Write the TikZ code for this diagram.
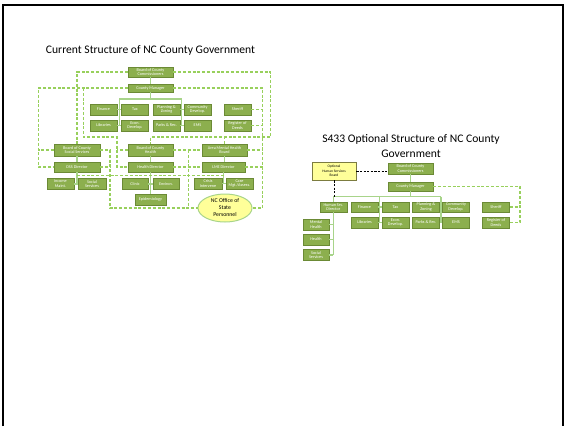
\documentclass[tikz,border=0pt]{standalone}
\usepackage{fontspec}
\setmainfont{Carlito}
\usetikzlibrary{shapes.geometric,shadows}

\definecolor{boxfill}{HTML}{8CAF4E}
\definecolor{boxedge}{HTML}{6B8A35}
\definecolor{solidgreen}{HTML}{A8D48A}
\definecolor{dashgreen}{HTML}{98D05C}
\definecolor{paleyellow}{HTML}{FFFF99}
\definecolor{olivedge}{HTML}{7C7C40}

\tikzset{
  orgbox/.style={draw=boxedge, fill=boxfill, text=white, line width=0.6pt, inner sep=0pt, align=center,
    font=\fontsize{4.2}{4.7}\selectfont, minimum width=27pt, minimum height=11pt,
    drop shadow={shadow xshift=0.5pt, shadow yshift=-0.5pt, opacity=0.35}},
  widebox/.style={orgbox, minimum width=45pt},
  solidln/.style={draw=solidgreen, line width=1.1pt},
  dashln/.style={draw=dashgreen, line width=1.1pt, dash pattern=on 3pt off 1.8pt},
  blackdash/.style={draw=black, line width=0.9pt, dash pattern=on 2.2pt off 1.4pt},
  heading/.style={font=\fontsize{11.6}{14.5}\selectfont, align=center, inner sep=0pt}
}

\begin{document}
\begin{tikzpicture}[x=1pt, y=-1pt]
\useasboundingbox (0,0) rectangle (565,426);
\draw [line width=2pt] (3,426) -- (3,5) -- (563,5) -- (563,426);

% current structure
\node [heading] (title1) at (150.5,50) {Current Structure of NC County Government};
\node [widebox, minimum height=10pt] (bocc) at (150.5,72) {Board of County\\Commissioners};
\node [widebox, minimum height=8pt]  (mgr)  at (150.5,88) {County Manager};
\node [orgbox] (fin)   at (103.5,109.5) {Finance};
\node [orgbox] (tax)   at (135,109.5)   {Tax};
\node [orgbox] (pz)    at (166.5,109.5) {Planning \&\\Zoning};
\node [orgbox] (cd)    at (197.5,109.5) {Community\\Develop.};
\node [orgbox] (sher)  at (237.5,109.5) {Sheriff};
\node [orgbox] (lib)   at (103.5,125.5) {Libraries};
\node [orgbox] (econ)  at (135,125.5)   {Econ.\\Develop.};
\node [orgbox] (parks) at (166.5,125.5) {Parks \& Rec.};
\node [orgbox] (ems)   at (197.5,125.5) {EMS};
\node [orgbox] (rod)   at (237.5,125.5) {Register of\\Deeds};

\node [widebox, minimum width=46pt, minimum height=12pt] (boss) at (77,150) {Board of County\\Social Services};
\node [widebox, minimum width=46pt, minimum height=10pt] (dss)  at (77,167) {DSS Director};
\node [orgbox] (inc) at (60.5,184) {Income\\Maint.};
\node [orgbox, minimum width=28pt] (soc) at (92,184) {Social\\Services};

\node [widebox, minimum height=12pt] (boch) at (150.5,150) {Board of County\\Health};
\node [widebox, minimum height=10pt] (hd)   at (150.5,167) {Health Director};
\node [orgbox, minimum width=26pt] (clin) at (135,184) {Clinic};
\node [orgbox, minimum width=26pt] (env)  at (166,184) {Environ.};
\node [orgbox, minimum width=31pt] (epi)  at (150.5,199.5) {Epidemiology};

\node [widebox, minimum height=12pt] (amhb) at (224.5,150) {Area Mental Health\\Board};
\node [widebox, minimum width=43pt, minimum height=10pt] (lme) at (223.5,167) {LME Director};
\node [orgbox, minimum width=28pt] (cri)  at (208,183.5)   {Crisis\\Intervene};
\node [orgbox] (case) at (239.5,183.5) {Case\\Mgt./Assess.};
\node [ellipse, draw=solidgreen, fill=paleyellow, line width=1pt, inner sep=0pt, minimum width=54pt, minimum height=28pt,
  align=center, font=\fontsize{5.8}{7}\selectfont] (osp) at (225,208) {NC Office of\\State\\Personnel};

\coordinate (busL) at (119.3,99);
\coordinate (busR) at (181.7,99);
\draw [solidln] (bocc.south) -- (mgr.north);
\draw [solidln] (mgr.south) -- (mgr.south |- busL);
\draw [solidln] (busL) -- (busR);
\draw [solidln] (busL) -- (busL |- lib.east);
\draw [solidln] (busR) -- (busR |- ems.west);
\draw [solidln] (fin.east) -- (tax.west);
\draw [solidln] (lib.east) -- (econ.west);
\draw [solidln] (pz.east) -- (cd.west);
\draw [solidln] (parks.east) -- (ems.west);
\draw [solidln] (boss.south) -- (dss.north);
\draw [solidln] (dss.south) -- (dss.south |- inc.east);
\draw [solidln] (inc.east) -- (soc.west);
\draw [solidln] (boch.south) -- (hd.north);
\draw [solidln] (hd.south) -- (epi.north);
\draw [solidln] (clin.east) -- (env.west);
\draw [solidln] (amhb.south) -- (amhb.south |- lme.north);
\draw [solidln] (lme.south) -- (lme.south |- cri.east);
\draw [solidln] (cri.east) -- (case.west);

\coordinate (lf) at (38.5,167);
\coordinate (in1) at (83.3,137);
\coordinate (in2) at (117,137);
\coordinate (rt1) at (270.7,137);
\coordinate (rt2) at (262.7,208);
\coordinate (md1) at (110,208);
\coordinate (md2) at (188.5,150);
\coordinate (dl) at (77,175.5);
\coordinate (dr) at (223.5,175.5);
\draw [dashln] (bocc.west) -| (boss.north);
\draw [dashln] (bocc.east) -| (rt1) -| (boch.north);
\draw [dashln] (amhb.north) -- (amhb.north |- rt1);
\draw [dashln] (mgr.west) -| (lf) -- (dss.west);
\draw [dashln] (boss.west) -- (boss.west -| lf);
\draw [dashln] (mgr.west -| in1) -- (in1) -- (in2) |- (hd.west);
\draw [dashln] (boch.west) -- (boch.west -| in2);
\draw [dashln] (mgr.east) -| (rt2) -- (osp.east);
\draw [dashln] (sher.east) -- (sher.east -| rt2);
\draw [dashln] (rod.east) -- (rod.east -| rt2);
\draw [dashln] (amhb.east) -- (amhb.east -| rt2);
\draw [dashln] (lme.east) -- (lme.east -| rt2);
\draw [dashln] (boss.east) -| (md1) -- (osp.west);
\draw [dashln] (dss.east) -- (dss.east -| md1);
\draw [dashln] (boch.east) -- (amhb.west);
\draw [dashln] (hd.east) -- (lme.west);
\draw [dashln] (md2) -- (md2 |- osp.west);
\draw [dashln] (dl) -- (dr);

% optional structure
\node [heading, anchor=north] (title2) at (411,134.5) {S433 Optional Structure of NC County\\Government};
\node [orgbox, fill=paleyellow, draw=olivedge, text=black, minimum width=44pt, minimum height=18pt,
  font=\fontsize{3.6}{4.4}\selectfont] (ohsb) at (334,171) {Optional\\Human Services\\Board};
\node [widebox, minimum height=11pt] (bocc2) at (410.5,168.5) {Board of County\\Commissioners};
\node [widebox, minimum height=9pt]  (mgr2)  at (410.5,186.5) {County Manager};
\node [orgbox, minimum height=10pt] (hsd)    at (333.3,207) {Human Srv.\\Director};
\node [orgbox, minimum height=10pt] (fin2)   at (364.5,207) {Finance};
\node [orgbox, minimum height=10pt] (tax2)   at (395.5,207) {Tax};
\node [orgbox, minimum height=10pt] (pz2)    at (426,207)   {Planning \&\\Zoning};
\node [orgbox, minimum height=10pt] (cd2)    at (456,207)   {Community\\Develop.};
\node [orgbox, minimum height=10pt] (sher2)  at (496,207)   {Sheriff};
\node [orgbox] (lib2)   at (364.5,222.5) {Libraries};
\node [orgbox] (econ2)  at (395.5,222.5) {Econ.\\Develop.};
\node [orgbox] (parks2) at (426,222.5)   {Parks \& Rec.};
\node [orgbox] (ems2)   at (456,222.5)   {EMS};
\node [orgbox] (rod2)   at (496,222.5)   {Register of\\Deeds};
\node [orgbox, minimum width=26pt] (mh) at (316,224.5) {Mental\\Health};
\node [orgbox, minimum width=26pt] (hl) at (316,239.5) {Health};
\node [orgbox, minimum width=26pt] (ss) at (316,255)   {Social\\Services};

\coordinate (bus2L) at (333.3,196.7);
\coordinate (bus2M) at (379.3,196.7);
\coordinate (bus2R) at (441,196.7);
\coordinate (rt3) at (520,222.5);
\draw [solidln] (bocc2.south) -- (mgr2.north);
\draw [solidln] (mgr2.south) -- (mgr2.south |- bus2L);
\draw [solidln] (bus2L) -- (bus2R);
\draw [solidln] (bus2L) -- (hsd.north);
\draw [solidln] (bus2M) -- (bus2M |- lib2.east);
\draw [solidln] (bus2R) -- (bus2R |- ems2.west);
\draw [solidln] (fin2.east) -- (tax2.west);
\draw [solidln] (lib2.east) -- (econ2.west);
\draw [solidln] (pz2.east) -- (cd2.west);
\draw [solidln] (parks2.east) -- (ems2.west);
\draw [solidln] (hsd.south) -- (hsd.south |- ss.east);
\draw [solidln] (mh.east) -- (mh.east -| hsd.south);
\draw [solidln] (hl.east) -- (hl.east -| hsd.south);
\draw [solidln] (ss.east) -- (ss.east -| hsd.south);
\draw [blackdash] (ohsb.east) -- (ohsb.east -| bocc2.west);
\draw [blackdash] (ohsb.south) -- (ohsb.south |- bus2L);
\draw [dashln] (mgr2.east) -| (rt3) -- (rod2.east);
\draw [dashln] (sher2.east) -- (sher2.east -| rt3);
\end{tikzpicture}
\end{document}
